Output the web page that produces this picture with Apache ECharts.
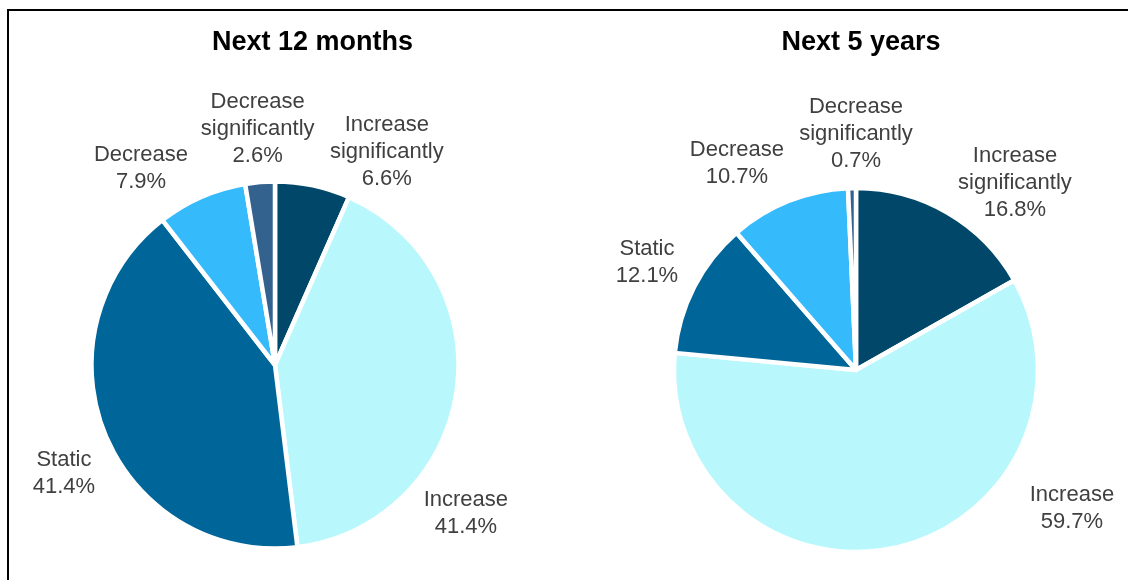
<!DOCTYPE html>
<html><head><meta charset="utf-8">
<script src="https://cdn.jsdelivr.net/npm/echarts@6/dist/echarts.min.js"></script>
<style>html,body{margin:0;padding:0;background:#fff}#c{width:1128px;height:580px}</style>
</head><body><div id="c"></div>
<script>
const categories = ['Increase significantly', 'Increase', 'Static', 'Decrease', 'Decrease significantly'];
const titles = ['Next 12 months', 'Next 5 years'];
const next12Months = [6.6, 41.4, 41.4, 7.9, 2.6];
const next5Years = [16.8, 59.7, 12.1, 10.7, 0.7];
const colors = ['#00476A', '#B8F8FC', '#006699', '#35BAFC', '#34628F'];

// layout (not data)
const pies = [{ center: [275, 365], radius: 183.5, titleX: 307.5 }, { center: [856, 370], radius: 182, titleX: 856 }];
// label anchor: [angle clockwise from 12 o'clock (deg), distance from pie centre (px)]
const labelPlacement = [
  [[27.7, 240.6], [127.9, 241.9], [242.8, 237.3], [-34.3, 237.8], [-4.2, 236.6]],
  [[40.3, 245.8], [122.7, 256.6], [-62.8, 235], [-30, 238.3], [0, 236]]
];
const seriesValues = [next12Months, next5Years];
const FONT = "'Liberation Sans', Arial, sans-serif";

const chart = echarts.init(document.getElementById('c'), null, { renderer: 'canvas' });
chart.setOption({
  backgroundColor: '#ffffff',
  animation: false,
  color: colors,
  title: pies.map((p, i) => ({
    text: titles[i],
    left: p.titleX,
    top: 24,
    textAlign: 'center',
    textStyle: { fontFamily: FONT, fontSize: 27, fontWeight: 'bold', color: '#000' }
  })),
  graphic: [{
    type: 'rect', silent: true, z: -1,
    shape: { x: 8, y: 10, width: 1400, height: 800 },
    style: { fill: 'none', stroke: '#000', lineWidth: 2 }
  }],
  series: seriesValues.map((vals, si) => ({
    type: 'pie',
    center: pies[si].center,
    radius: [0, pies[si].radius],
    startAngle: 90,
    clockwise: true,
    avoidLabelOverlap: false,
    minShowLabelAngle: 0,
    itemStyle: { borderColor: '#ffffff', borderWidth: 4.5 },
    label: {
      show: true,
      position: 'outside',
      formatter: p => p.name.replace(' ', '\n') + '\n' + p.value.toFixed(1) + '%',
      fontFamily: FONT,
      fontSize: 22,
      lineHeight: 27,
      color: '#404040',
      align: 'center'
    },
    labelLine: { show: false },
    labelLayout: function (params) {
      const pl = labelPlacement[si][params.dataIndex];
      const a = pl[0] * Math.PI / 180;
      const c = pies[si].center;
      return {
        x: c[0] + pl[1] * Math.sin(a),
        y: c[1] - pl[1] * Math.cos(a),
        align: 'center',
        verticalAlign: 'middle'
      };
    },
    emphasis: { disabled: true },
    data: categories.map((name, i) => ({ name: name, value: vals[i] }))
  }))
});
</script></body></html>
